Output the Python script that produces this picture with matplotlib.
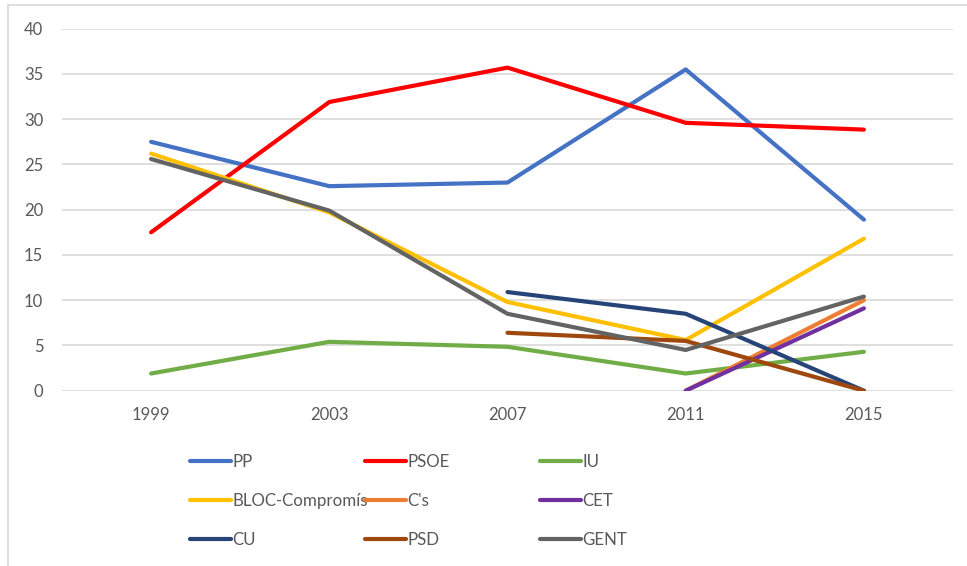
import matplotlib
matplotlib.use('Agg')
import matplotlib.pyplot as plt
from matplotlib.lines import Line2D

years = ['1999', '2003', '2007', '2011', '2015']

pp = [27.5, 22.6, 23.0, 35.5, 18.9]
psoe = [17.5, 31.9, 35.7, 29.6, 28.85]
iu = [1.9, 5.4, 4.85, 1.9, 4.3]
bloc = [26.2, 19.7, 9.8, 5.6, 16.8]
cs = [None, None, None, 0.0, 10.0]
cet = [None, None, None, 0.0, 9.1]
cu = [None, None, 10.9, 8.5, 0.0]
psd = [None, None, 6.4, 5.5, 0.0]
gent = [25.6, 19.9, 8.5, 4.5, 10.4]

series = [
    ('PP', pp, '#4472C4'),
    ('PSOE', psoe, '#FF0000'),
    ('IU', iu, '#70AD47'),
    ('BLOC-Compromís', bloc, '#FFC000'),
    ("C's", cs, '#ED7D31'),
    ('CET', cet, '#7030A0'),
    ('CU', cu, '#264478'),
    ('PSD', psd, '#9E480E'),
    ('GENT', gent, '#636363'),
]

txt_color = '#595959'
plt.rcParams['font.family'] = ['Lato', 'DejaVu Sans']

fig = plt.figure(figsize=(9.67, 5.66), dpi=100)
ax = fig.add_axes([62 / 967, 1 - 390.7 / 566, (953 - 62) / 967, (390.7 - 28.7) / 566])

handles = []
for name, vals, col in series:
    xs = [i for i, v in enumerate(vals) if v is not None]
    ys = [v for v in vals if v is not None]
    h, = ax.plot(xs, ys, color=col, lw=3, solid_capstyle='round',
                 solid_joinstyle='round', label=name)
    handles.append(h)

ax.set_xlim(-0.5, 4.5)
ax.set_ylim(0, 40)
ax.set_yticks(range(0, 41, 5))
ax.set_xticks(range(len(years)))
ax.set_xticklabels(years)
ax.grid(axis='y', color='#D9D9D9', lw=1.2)
ax.set_axisbelow(True)
for s in ax.spines.values():
    s.set_visible(False)
ax.tick_params(length=0, labelsize=12, labelcolor=txt_color)
ax.tick_params(axis='y', pad=13.5)
ax.tick_params(axis='x', pad=12)

# legend: three columns of equal width, like Excel
col_x = [190 / 967, 365 / 967, 540 / 967]
for c in range(3):
    hs = [handles[c + 3 * r] for r in range(3)]
    fig.legend(hs, [h.get_label() for h in hs], loc='upper left',
               bbox_to_anchor=(col_x[c], 1 - 454 / 566), frameon=False,
               fontsize=12.2, labelcolor=txt_color, handlelength=2.4,
               handletextpad=0.1, labelspacing=1.35, borderpad=0,
               borderaxespad=0)

# chart area border (left and top edges visible)
fig.add_artist(Line2D([8 / 967, 8 / 967], [0, 1 - 5 / 566], color='#D9D9D9', lw=1.2))
fig.add_artist(Line2D([8 / 967, 1], [1 - 5 / 566, 1 - 5 / 566], color='#D9D9D9', lw=1.2))

fig.savefig('out.png', dpi=100)
